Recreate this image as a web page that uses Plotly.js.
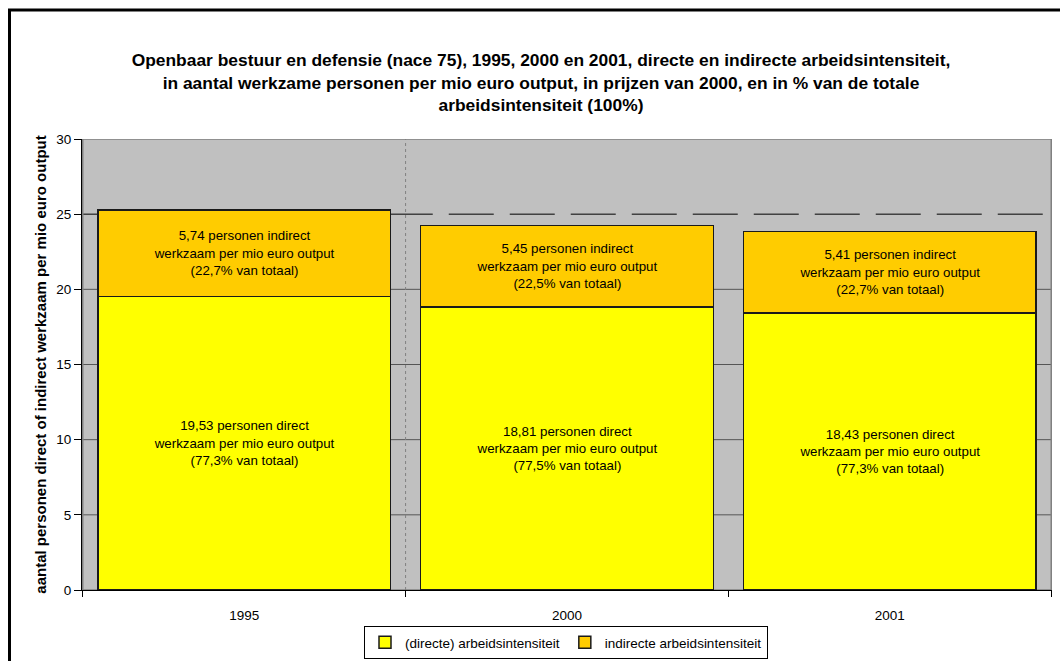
<!DOCTYPE html>
<html>
<head>
<meta charset="utf-8">
<script src="https://cdn.plot.ly/plotly-3.0.1.min.js"></script>
<style>
html,body{margin:0;padding:0;background:#fff;}
#chart{width:1060px;height:661px;}
</style>
</head>
<body>
<div id="chart"></div>
<script>
const years = ['1995', '2000', '2001'];
const directValues = [19.53, 18.81, 18.43];
const indirectValues = [5.74, 5.45, 5.41];
const directShare = [77.3, 77.5, 77.3];
const indirectShare = [22.7, 22.5, 22.7];
const referenceLevel = 25;
const yTicks = [0, 5, 10, 15, 20, 25, 30];
const gridLevels = [5, 10, 15, 20];

const nl = v => v.toFixed(2).replace('.', ',');
const pct = v => v.toFixed(1).replace('.', ',');

const directText = directValues.map((v, i) =>
  nl(v) + ' personen direct<br>werkzaam per mio euro output<br>(' + pct(directShare[i]) + '% van totaal)');
const indirectText = indirectValues.map((v, i) =>
  nl(v) + ' personen indirect<br>werkzaam per mio euro output<br>(' + pct(indirectShare[i]) + '% van totaal)');

const FONT = 'Liberation Sans, Arial, sans-serif';

const traces = [
  {
    type: 'bar', name: '(directe) arbeidsintensiteit',
    x: years, y: directValues,
    text: directText, textposition: 'inside', insidetextanchor: 'middle',
    textfont: {family: FONT, size: 13.3, color: '#000'},
    constraintext: 'none', hoverinfo: 'none',
    marker: {color: '#FFFF00', line: {color: '#1a1a1a', width: 1.5}}
  },
  {
    type: 'bar', name: 'indirecte arbeidsintensiteit',
    x: years, y: indirectValues,
    text: indirectText, textposition: 'inside', insidetextanchor: 'middle',
    textfont: {family: FONT, size: 13.3, color: '#000'},
    constraintext: 'none', hoverinfo: 'none',
    marker: {color: '#FFCC00', line: {color: '#1a1a1a', width: 1.5}}
  }
];

const plotTop = 139, plotBottom = 590, plotLeft = 82, plotRight = 1052;
const ph = plotBottom - plotTop, pw = plotRight - plotLeft;
const px = x => (x - plotLeft) / pw;
const py = y => (plotBottom - y) / ph;

const shapes = [];
gridLevels.forEach(g => shapes.push({
  type: 'line', xref: 'x', yref: 'y', x0: -0.5, x1: 2.5, y0: g, y1: g,
  line: {color: '#555555', width: 1}, layer: 'below'
}));
shapes.push(
  {type: 'line', xref: 'x', yref: 'y', x0: -0.5, x1: 2.5, y0: referenceLevel, y1: referenceLevel,
   line: {color: '#000', width: 1, dash: '45px,16px'}, layer: 'below'},
  {type: 'line', xref: 'x', yref: 'y', x0: 0.5, x1: 0.5, y0: 0, y1: 30,
   line: {color: '#808080', width: 1, dash: 'dot'}, layer: 'below'},
  {type: 'rect', xref: 'x', yref: 'y', x0: -0.5, x1: 2.5, y0: 0, y1: 30,
   line: {color: '#808080', width: 1.5}, fillcolor: 'rgba(0,0,0,0)', layer: 'below'},
  {type: 'rect', xref: 'paper', yref: 'paper', x0: px(9.5), x1: px(1075), y0: py(10), y1: py(680),
   line: {color: '#000', width: 3}, fillcolor: 'rgba(0,0,0,0)', layer: 'above'}
);

const layout = {
  width: 1060, height: 661,
  paper_bgcolor: '#ffffff', plot_bgcolor: '#C0C0C0',
  margin: {l: plotLeft, r: 1060 - plotRight, t: plotTop, b: 661 - plotBottom, pad: 0, autoexpand: false},
  barmode: 'stack', bargap: 0.093,
  font: {family: FONT, size: 13, color: '#000'},
  title: {
    text: 'Openbaar bestuur en defensie (nace 75), 1995, 2000 en 2001, directe en indirecte arbeidsintensiteit,<br>in aantal werkzame personen per mio euro output, in prijzen van 2000, en in % van de totale<br>arbeidsintensiteit (100%)',
    font: {family: FONT, size: 17.4, color: '#000', weight: 'bold'},
    xref: 'container', x: 541 / 1060, xanchor: 'center',
    yref: 'container', y: 1 - 66 / 661, yanchor: 'middle'
  },
  xaxis: {
    type: 'category', showgrid: false, showline: true, linecolor: '#000', linewidth: 1,
    ticks: 'outside', tickson: 'boundaries', ticklen: 6, tickcolor: '#000',
    tickfont: {family: FONT, size: 13.5}, ticklabelstandoff: 13, fixedrange: true, automargin: false
  },
  yaxis: {
    range: [0, 30], tickvals: yTicks, showgrid: false,
    zeroline: false, showline: true, linecolor: '#000', linewidth: 1,
    ticks: 'outside', ticklen: 7, tickcolor: '#000',
    tickfont: {family: FONT, size: 13.5}, automargin: false,
    title: {text: 'aantal personen direct of indirect werkzaam per mio euro output',
            font: {family: FONT, size: 15, weight: 'bold'}, standoff: 6},
    fixedrange: true
  },
  legend: {
    orientation: 'h', xref: 'container', yref: 'container',
    x: 566 / 1060, xanchor: 'center', y: 1 - 659 / 661, yanchor: 'bottom',
    bordercolor: '#000', borderwidth: 1, bgcolor: '#fff',
    font: {family: FONT, size: 13.5}, itemwidth: 30, traceorder: 'normal'
  },
  showlegend: true,
  shapes: shapes
};

Plotly.newPlot('chart', traces, layout, {displayModeBar: false, staticPlot: true});
</script>
</body>
</html>
